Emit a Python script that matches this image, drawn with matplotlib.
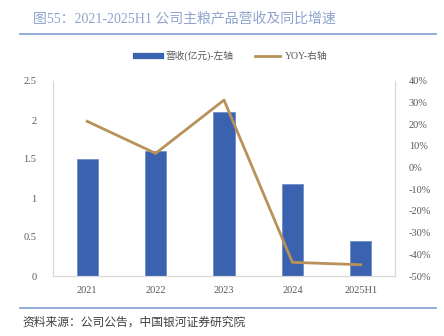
import numpy as np
import matplotlib
matplotlib.use("Agg")
from matplotlib import pyplot as plt
from matplotlib.lines import Line2D

plt.rcParams['font.family'] = ['Liberation Serif', 'Noto Sans CJK SC']

# data
years = ['2021', '2022', '2023', '2024', '2025H1']
revenue = [1.50, 1.60, 2.10, 1.18, 0.45]          # 亿元, left axis
yoy = [21.4, 6.6, 31.2, -43.7, -44.8]              # %, right axis
left_ticks = [0, 0.5, 1, 1.5, 2, 2.5]
right_ticks = [-50, -40, -30, -20, -10, 0, 10, 20, 30, 40]

bar_color = '#3A62AE'
line_color = '#B8925A'
tick_color = '#595959'
spine_color = '#D9D9D9'
rule_color = '#7F9FD3'

fig = plt.figure(figsize=(4.44, 3.36), dpi=100)
ax = fig.add_axes([53/444, 1 - 276/336, (395 - 53)/444, (276 - 81)/336])
x = np.arange(len(years))

ax.bar(x, revenue, width=0.31, color=bar_color, edgecolor='#6F8FCB', linewidth=0.6, zorder=2)
ax.set_xlim(-0.5, len(years) - 0.5)
ax.set_ylim(0, 2.5)
ax.set_yticks(left_ticks)
ax.set_yticklabels([f'{t:g}' for t in left_ticks])
ax.set_xticks(x)
ax.set_xticklabels(years)

ax2 = ax.twinx()
ax2.plot(x, yoy, color=line_color, linewidth=2, zorder=3)
ax2.set_ylim(-50, 40)
ax2.set_yticks(right_ticks)
ax2.set_yticklabels([f'{t}%' for t in right_ticks])

for a in (ax, ax2):
    a.tick_params(length=0, labelsize=7.5, colors=tick_color)
    for s in a.spines.values():
        s.set_color(spine_color)
        s.set_linewidth(0.8)
    a.spines['top'].set_visible(False)
ax.tick_params(axis='y', pad=12)
ax2.tick_params(axis='y', pad=10)
ax.tick_params(axis='x', pad=7)
ax2.set_zorder(ax.get_zorder() + 1)
ax2.patch.set_visible(False)

# legend
handles = [Line2D([0], [0], color=bar_color, linewidth=4.5),
           Line2D([0], [0], color=line_color, linewidth=2)]
fig.legend(handles, ['营收(亿元)-左轴', 'YOY-右轴'], loc='center', bbox_to_anchor=(0.522, 1 - 56/336),
           ncol=2, frameon=False, fontsize=7, handlelength=2.6, handletextpad=0.5,
           columnspacing=2.2, labelcolor=tick_color)

# title and rules
fig.text(33/444, 1 - 18/336, '图55：2021-2025H1 公司主粮产品营收及同比增速', fontsize=10,
         color='#8FA3CE', va='center', ha='left')
fig.add_artist(Line2D([20/444, 436/444], [1 - 34/336] * 2, color=rule_color, linewidth=1.2))
fig.add_artist(Line2D([20/444, 436/444], [1 - 308/336] * 2, color=rule_color, linewidth=1.2))
fig.text(22/444, 1 - 322/336, '资料来源：公司公告，中国银河证券研究院', fontsize=8.5, style='italic',
         color='#404040', va='center', ha='left', family=['Noto Sans CJK SC'])

fig.savefig('out.png', dpi=100)
